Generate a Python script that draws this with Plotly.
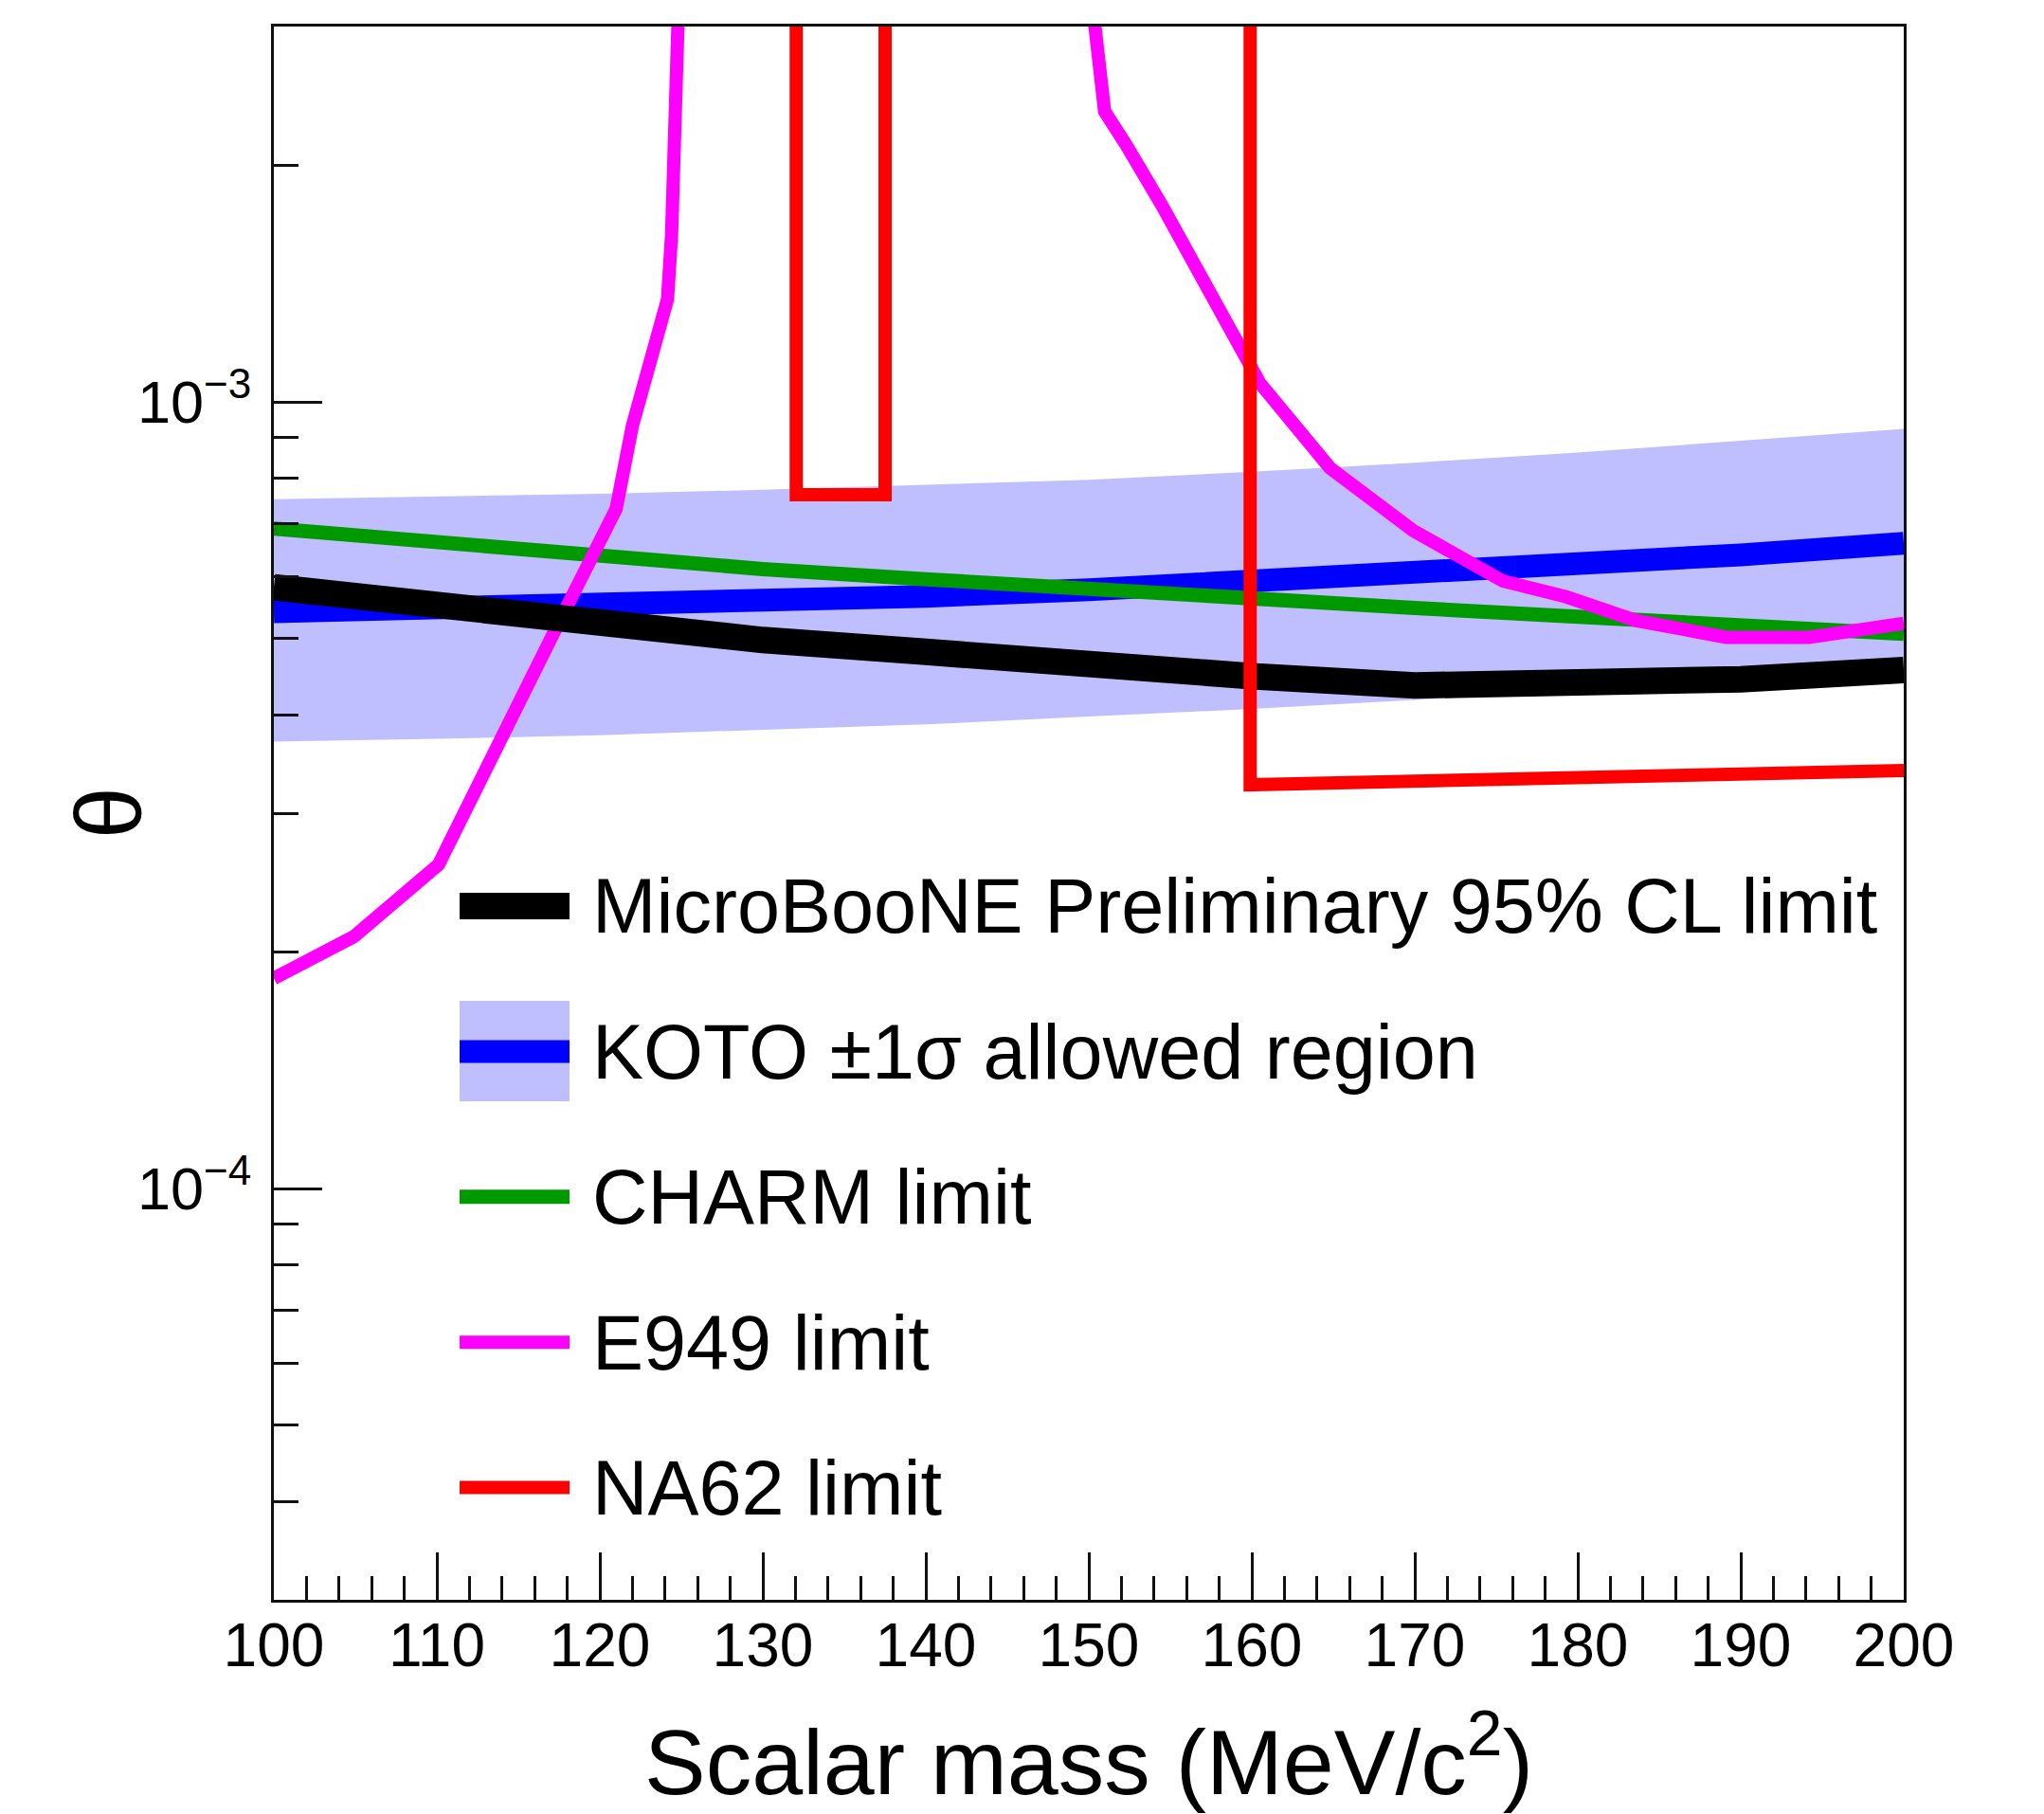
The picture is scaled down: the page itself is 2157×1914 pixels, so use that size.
import math
import plotly.graph_objects as go

# ---------------- data ----------------
mass_grid = [100, 110, 120, 130, 140, 150, 160, 170, 180, 190, 200]
koto_upper = [7.52e-4, 7.58e-4, 7.64e-4, 7.73e-4, 7.84e-4, 7.96e-4, 8.15e-4, 8.37e-4, 8.62e-4, 8.93e-4, 9.24e-4]
koto_lower = [3.70e-4, 3.73e-4, 3.77e-4, 3.83e-4, 3.89e-4, 3.98e-4, 4.07e-4, 4.18e-4, 4.29e-4, 4.39e-4, 4.51e-4]
koto_central = [5.41e-4, 5.45e-4, 5.51e-4, 5.57e-4, 5.66e-4, 5.77e-4, 5.90e-4, 6.04e-4, 6.20e-4, 6.39e-4, 6.61e-4]
charm_limit = [6.90e-4, 6.61e-4, 6.34e-4, 6.13e-4, 5.95e-4, 5.77e-4, 5.62e-4, 5.47e-4, 5.33e-4, 5.19e-4, 5.07e-4]
microboone_limit = [5.81e-4, 5.49e-4, 5.21e-4, 4.98e-4, 4.81e-4, 4.61e-4, 4.48e-4, 4.36e-4, 4.39e-4, 4.44e-4, 4.56e-4]

e949_mass = [100, 104.9, 110.1, 114.1, 116.35, 117.8, 119.26, 121.0, 122.0, 123.0, 124.15, 124.4, 124.85,
             None,
             150.15, 150.97, 152.3, 154.5, 160.5, 164.8, 169.9, 175.4, 179.3, 183.6, 189.1, 194.2, 200]
e949_limit = [1.85e-4, 2.09e-4, 2.58e-4, 3.74e-4, 4.70e-4, 5.40e-4, 6.20e-4, 7.31e-4, 9.33e-4, 1.127e-3, 1.35e-3, 1.63e-3, 3.3e-3,
              None,
              3.3e-3, 2.34e-3, 2.12e-3, 1.775e-3, 1.056e-3, 8.24e-4, 6.86e-4, 5.92e-4, 5.65e-4, 5.27e-4, 5.02e-4, 5.02e-4, 5.23e-4]

na62_mass = [132.05, 132.05, 137.5, 137.5, None, 159.9, 159.9, 200]
na62_limit = [3.3e-3, 7.62e-4, 7.62e-4, 3.3e-3, None, 3.3e-3, 3.26e-4, 3.40e-4]

legend_names = [
    "MicroBooNE Preliminary 95% CL limit",
    "KOTO \u00b11\u03c3 allowed region",
    "CHARM limit",
    "E949 limit",
    "NA62 limit",
]

x_range = [100, 200]
y_range = [3e-5, 3e-3]
y_major = [1e-4, 1e-3]
y_major_text = ["10<sup>\u22124</sup>", "10<sup>\u22123</sup>"]
y_minor = [4e-5, 5e-5, 6e-5, 7e-5, 8e-5, 9e-5,
           2e-4, 3e-4, 4e-4, 5e-4, 6e-4, 7e-4, 8e-4, 9e-4, 2e-3]
x_title = "Scalar mass (MeV/c<sup>2</sup>)"
y_title = "\u03b8"

# ---------------- styles ----------------
FONT = "Liberation Sans, Arial, Helvetica, sans-serif"
BAND = "#bfbfff"
st_micro = dict(color="#000000", width=28)
st_koto = dict(color="#0000ff", width=24)
st_charm = dict(color="#009900", width=15)
st_e949 = dict(color="#ff00ff", width=14)
st_na62 = dict(color="#ff0000", width=14)
AX = "#111111"

fig = go.Figure()

# KOTO band
fig.add_trace(go.Scatter(x=mass_grid, y=koto_lower, mode="lines", line=dict(width=0, color=BAND),
                         showlegend=False, hoverinfo="skip"))
fig.add_trace(go.Scatter(x=mass_grid, y=koto_upper, mode="lines", line=dict(width=0, color=BAND),
                         fill="tonexty", fillcolor=BAND, showlegend=False, hoverinfo="skip"))
# KOTO central
fig.add_trace(go.Scatter(x=mass_grid, y=koto_central, mode="lines", line=st_koto, showlegend=False))
# CHARM
fig.add_trace(go.Scatter(x=mass_grid, y=charm_limit, mode="lines", line=st_charm, showlegend=False))
# E949
fig.add_trace(go.Scatter(x=e949_mass, y=e949_limit, mode="lines", line=st_e949, showlegend=False,
                         connectgaps=False))
# MicroBooNE
fig.add_trace(go.Scatter(x=mass_grid, y=microboone_limit, mode="lines", line=st_micro, showlegend=False))
# NA62
fig.add_trace(go.Scatter(x=na62_mass, y=na62_limit, mode="lines", line=st_na62, showlegend=False,
                         connectgaps=False))

# ---------------- legend drawn on its own small axes ----------------
key_styles = [st_micro, st_koto, st_charm, st_e949, st_na62]
fig.add_trace(go.Bar(x=[1], y=[legend_names[1]], base=0, orientation="h", width=0.69,
                     marker=dict(color=BAND, line=dict(width=0)), xaxis="x2", yaxis="y2",
                     showlegend=False, hoverinfo="skip"))
for name, stl in zip(legend_names, key_styles):
    fig.add_trace(go.Scatter(x=[0, 1], y=[name, name], mode="lines", line=stl,
                             xaxis="x2", yaxis="y2", showlegend=False, hoverinfo="skip"))

W, H = 2157, 1914
ML, MR, MT, MB = 289, 148, 28, 215
plot_w = W - ML - MR
plot_h = H - MT - MB

def px_x(p):
    return (p - ML) / plot_w

def px_y(p):
    return (H - MB - p) / plot_h

leg_top, leg_bot = 885, 1657
leg_x0, leg_x1 = 485, 601
ytitle_x = 114

fig.update_layout(
    width=W, height=H,
    margin=dict(l=ML, r=MR, t=MT, b=MB, pad=0),
    paper_bgcolor="white",
    plot_bgcolor="rgba(0,0,0,0)",
    font=dict(family=FONT, color="black"),
    showlegend=False,
    xaxis=dict(
        range=x_range, tick0=100, dtick=10, ticks="inside", ticklen=50, tickwidth=3, tickcolor=AX,
        showline=True, mirror=True, linecolor=AX, linewidth=3,
        showgrid=False, zeroline=False,
        minor=dict(dtick=2, ticks="inside", ticklen=25, tickwidth=3, tickcolor=AX, showgrid=False),
        tickfont=dict(size=64, family=FONT, color="black"),
        ticklabelstandoff=-10,
        title=dict(text=x_title, font=dict(size=97, family=FONT, color="black"), standoff=62),
    ),
    yaxis=dict(
        type="log", range=[math.log10(y_range[0]), math.log10(y_range[1])],
        tickmode="array", tickvals=y_major, ticktext=y_major_text,
        ticks="inside", ticklen=51, tickwidth=3, tickcolor=AX,
        showline=True, mirror=True, linecolor=AX, linewidth=3,
        showgrid=False, zeroline=False,
        minor=dict(tickmode="array", tickvals=y_minor, ticks="inside", ticklen=26, tickwidth=3,
                   tickcolor=AX, showgrid=False),
        tickfont=dict(size=63, family=FONT, color="black"),
        ticklabelstandoff=8,
    ),
    xaxis2=dict(domain=[px_x(leg_x0), px_x(leg_x1)], range=[0, 1], anchor="y2", visible=False,
                fixedrange=True),
    yaxis2=dict(domain=[px_y(leg_bot), px_y(leg_top)], type="category", categoryorder="array",
                categoryarray=legend_names, range=[len(legend_names) - 0.5, -0.5], anchor="x2",
                side="right", showline=False, showgrid=False, zeroline=False, ticks="",
                tickfont=dict(size=81, family=FONT, color="black"), ticklabelstandoff=23,
                fixedrange=True),
    bargap=0,
    annotations=[dict(text=y_title, xref="paper", yref="paper", x=px_x(ytitle_x), y=0.5,
                      xanchor="center", yanchor="middle", textangle=-90, showarrow=False,
                      font=dict(size=98, family=FONT, color="black"))],
)

fig.write_html("out.html", config={"displayModeBar": False},
               post_script="document.body.style.margin='0px';")
